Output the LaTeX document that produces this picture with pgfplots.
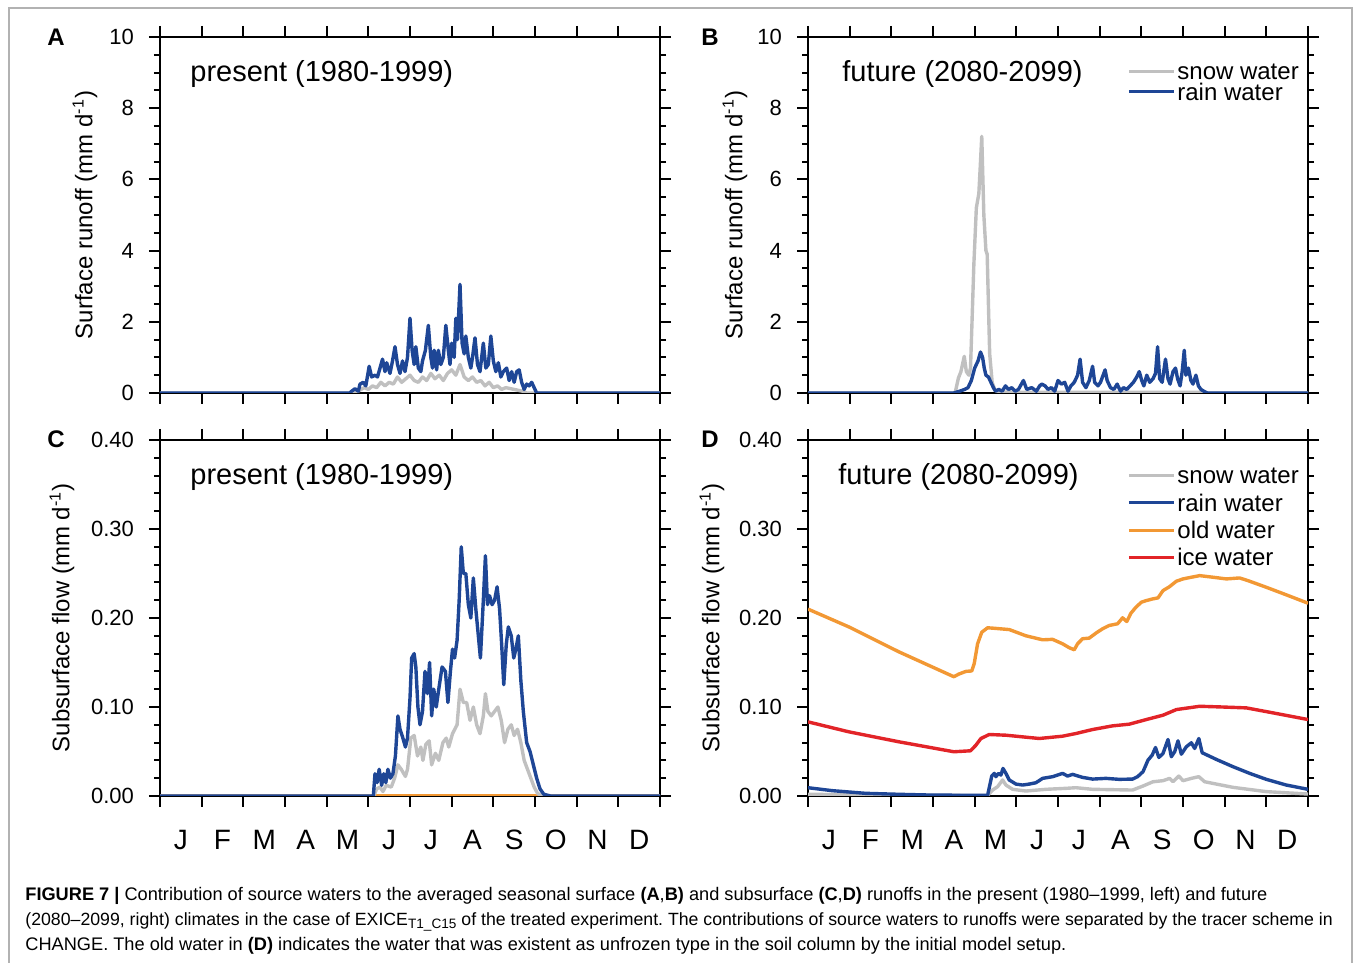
\documentclass[border=0pt]{standalone}
\usepackage{fontspec}
\setmainfont{Liberation Sans}
\usepackage{pgfplots}
\pgfplotsset{compat=1.18}
\frenchspacing

\definecolor{cgrey}{RGB}{192,192,192}
\definecolor{cblue}{RGB}{30,70,150}
\definecolor{corange}{RGB}{242,152,52}
\definecolor{cred}{RGB}{226,36,40}

\pgfplotsset{
  panel/.style={
    scale only axis, width=250pt, height=178pt,
    xmin=0, xmax=12,
    xtick={0,...,12}, xticklabels={},
    tick align=outside,
    major tick length=5.5pt, minor tick length=3pt,
    axis line style={line width=1.2pt},
    every tick/.style={black, line width=1pt},
    y tick label style={font=\fontsize{11}{11}\selectfont, xshift=-4pt},
    /pgf/number format/assume math mode=true,
    scaled y ticks=false,
    ylabel style={font=\fontsize{12}{12}\selectfont, anchor=center},
    every axis plot/.append style={line width=1.7pt, line join=round},
    legend style={draw=none, fill=none, anchor=north west, inner sep=0pt,
      font=\fontsize{12}{12}\selectfont,
      nodes={inner sep=1pt, text height=8.2pt, text depth=0pt, anchor=west}},
    legend cell align=left,
    legend image code/.code={\draw[##1, line width=1.5pt] (0pt,0pt) -- (22.5pt,0pt);},
  },
  surf/.style={ymin=0, ymax=10, ytick={0,2,...,10}, minor y tick num=3,
    ylabel={Surface runoff (mm d\textsuperscript{-1})}},
  sub/.style={ymin=0, ymax=0.4, ytick={0,0.1,0.2,0.3,0.4}, minor y tick num=4,
    y tick label style={/pgf/number format/.cd, fixed, fixed zerofill, precision=2},
    ylabel={Subsurface flow (mm d\textsuperscript{-1})}},
  months/.style={
    extra x ticks={0.5,1.5,2.5,3.5,4.5,5.5,6.5,7.5,8.5,9.5,10.5,11.5},
    extra x tick labels={J,F,M,A,M,J,J,A,S,O,N,D},
    extra x tick style={tick style={draw=none},
      tick label style={font=\fontsize{14}{14}\selectfont, yshift=-8pt}}},
}

\begin{document}
\begin{tikzpicture}
\path[use as bounding box] (0,0) rectangle (677.5pt,481.5pt);
\draw[gray!60, line width=0.7pt] (4.5pt,0) -- (4.5pt,477.5pt) -- (676pt,477.5pt) -- (676pt,0);

% ---------------- A ----------------
\begin{axis}[panel, surf, at={(80pt,285pt)}, anchor=south west,
  ylabel style={at={(axis description cs:-0.15,0.5)}}]
\addplot[cgrey] coordinates {(0,0) (4.6,0) (4.75,0.05) (4.9,0.15) (5.0,0.1) (5.1,0.2) (5.2,0.15) (5.3,0.3) (5.4,0.2) (5.5,0.3) (5.6,0.25) (5.7,0.45) (5.8,0.3) (5.9,0.4) (6.0,0.5) (6.1,0.35) (6.2,0.3) (6.3,0.45) (6.4,0.35) (6.5,0.55) (6.6,0.4) (6.7,0.5) (6.8,0.35) (6.9,0.55) (7.0,0.65) (7.1,0.5) (7.2,0.8) (7.3,0.45) (7.4,0.35) (7.5,0.45) (7.6,0.3) (7.7,0.35) (7.8,0.2) (7.9,0.3) (8.0,0.15) (8.1,0.2) (8.2,0.1) (8.3,0.15) (8.5,0.1) (8.7,0.05) (8.8,0) (12,0)};
\addplot[cblue] coordinates {(0,0) (4.55,0) (4.6,0.05) (4.68,0.12) (4.76,0.05) (4.8,0.25) (4.88,0.3) (4.94,0.2) (5.02,0.75) (5.08,0.45) (5.16,0.5) (5.22,0.45) (5.28,0.7) (5.34,0.95) (5.4,0.6) (5.44,0.85) (5.52,0.55) (5.58,0.9) (5.64,1.3) (5.7,0.8) (5.76,0.55) (5.82,0.9) (5.88,0.6) (5.94,1.0) (6.0,2.1) (6.05,1.2) (6.1,0.8) (6.14,1.3) (6.2,0.7) (6.26,0.6) (6.3,0.9) (6.37,1.2) (6.44,1.9) (6.5,1.0) (6.54,0.7) (6.58,1.2) (6.64,0.65) (6.68,1.2) (6.74,0.8) (6.8,1.0) (6.86,1.9) (6.92,1.2) (6.96,0.8) (7.0,1.4) (7.06,1.0) (7.1,2.1) (7.14,1.5) (7.2,3.05) (7.25,1.4) (7.3,1.1) (7.34,1.6) (7.4,1.0) (7.46,0.7) (7.5,1.0) (7.56,1.55) (7.62,0.8) (7.68,0.6) (7.76,1.4) (7.82,0.7) (7.88,0.8) (7.94,1.6) (8.0,0.9) (8.06,0.6) (8.12,0.85) (8.18,0.45) (8.24,0.6) (8.32,0.7) (8.38,0.35) (8.44,0.6) (8.5,0.3) (8.56,0.6) (8.62,0.65) (8.68,0.3) (8.74,0.1) (8.8,0.25) (8.86,0.2) (8.92,0.3) (8.98,0.15) (9.04,0.0) (12,0)};
\node[anchor=west, inner sep=0pt, font=\fontsize{14.5}{14.5}\selectfont] at (axis description cs:0.06,0.897) {present (1980-1999)};
\end{axis}

% ---------------- B ----------------
\begin{axis}[panel, surf, at={(404pt,285pt)}, anchor=south west,
  ylabel style={at={(axis description cs:-0.146,0.5)}},
  legend style={at={(axis description cs:0.638,0.933)}, row sep=0pt}]
\addplot[cgrey] coordinates {(0,0) (3.53,0) (3.61,0.42) (3.67,0.6) (3.75,1.03) (3.80,0.6) (3.86,0.5) (3.90,0.7) (3.95,2.5) (3.98,3.6) (4.04,5.2) (4.10,5.6) (4.14,6.5) (4.17,7.21) (4.22,5.0) (4.27,4.0) (4.30,3.9) (4.36,1.1) (4.42,0.3) (4.48,0.1) (4.55,0.03) (5,0.02) (9.5,0.02) (9.6,0) (12,0)};
\addlegendentry{snow water}
\addplot[cblue] coordinates {(0,0) (3.5,0) (3.64,0.05) (3.76,0.1) (3.84,0.15) (3.92,0.35) (4.0,0.7) (4.08,0.9) (4.14,1.15) (4.19,1.0) (4.23,0.7) (4.27,0.5) (4.33,0.45) (4.39,0.3) (4.45,0.15) (4.5,0.05) (4.58,0.1) (4.66,0.05) (4.74,0.2) (4.81,0.1) (4.89,0.15) (4.97,0.05) (5.05,0.1) (5.17,0.35) (5.25,0.1) (5.37,0.15) (5.48,0.05) (5.56,0.2) (5.61,0.25) (5.69,0.2) (5.76,0.1) (5.84,0.15) (5.92,0.05) (6.0,0.35) (6.08,0.25) (6.16,0.3) (6.24,0.05) (6.31,0.2) (6.39,0.3) (6.47,0.5) (6.53,0.95) (6.59,0.3) (6.67,0.15) (6.75,0.35) (6.83,0.75) (6.88,0.3) (6.96,0.2) (7.02,0.3) (7.13,0.65) (7.18,0.35) (7.26,0.15) (7.34,0.1) (7.42,0.25) (7.50,0.05) (7.57,0.15) (7.65,0.1) (7.73,0.2) (7.81,0.3) (7.89,0.45) (7.95,0.6) (8.01,0.35) (8.06,0.2) (8.13,0.5) (8.2,0.3) (8.28,0.4) (8.34,0.55) (8.39,1.3) (8.44,0.4) (8.5,0.3) (8.58,0.95) (8.64,0.4) (8.69,0.25) (8.76,0.6) (8.82,0.7) (8.87,0.4) (8.93,0.2) (8.98,0.6) (9.03,1.2) (9.07,0.5) (9.13,0.7) (9.19,0.35) (9.24,0.25) (9.31,0.5) (9.37,0.2) (9.43,0.1) (9.5,0.05) (9.58,0) (12,0)};
\addlegendentry{rain water}
\node[anchor=west, inner sep=0pt, font=\fontsize{14.5}{14.5}\selectfont] at (axis description cs:0.068,0.897) {future (2080-2099)};
\end{axis}

% ---------------- C ----------------
\begin{axis}[panel, sub, months, at={(80pt,83.5pt)}, anchor=south west,
  ylabel style={at={(axis description cs:-0.196,0.5)}}]
\addplot[corange] coordinates {(0,0) (12,0)};
\addplot[cgrey] coordinates {(0,0) (5.13,0) (5.2,0.008) (5.28,0.01) (5.35,0.005) (5.43,0.012) (5.55,0.01) (5.63,0.02) (5.71,0.035) (5.79,0.03) (5.89,0.022) (5.94,0.03) (6.02,0.065) (6.10,0.068) (6.18,0.045) (6.26,0.055) (6.31,0.04) (6.38,0.058) (6.46,0.062) (6.52,0.035) (6.61,0.048) (6.69,0.04) (6.79,0.06) (6.87,0.065) (6.93,0.055) (7.02,0.07) (7.13,0.08) (7.20,0.12) (7.28,0.105) (7.36,0.105) (7.44,0.085) (7.52,0.10) (7.60,0.08) (7.68,0.07) (7.76,0.09) (7.81,0.115) (7.87,0.095) (7.95,0.09) (8.03,0.095) (8.11,0.10) (8.19,0.085) (8.27,0.06) (8.35,0.075) (8.43,0.08) (8.50,0.068) (8.58,0.075) (8.66,0.06) (8.74,0.04) (8.82,0.03) (8.90,0.02) (8.98,0.01) (9.06,0.003) (9.17,0) (12,0)};
\addplot[cblue] coordinates {(0,0) (5.12,0) (5.16,0.025) (5.21,0.015) (5.26,0.03) (5.32,0.012) (5.37,0.025) (5.42,0.015) (5.47,0.03) (5.53,0.02) (5.59,0.025) (5.65,0.045) (5.71,0.09) (5.76,0.075) (5.83,0.065) (5.89,0.055) (5.94,0.065) (6.0,0.11) (6.04,0.155) (6.10,0.16) (6.14,0.145) (6.19,0.10) (6.24,0.08) (6.30,0.095) (6.36,0.14) (6.42,0.115) (6.47,0.15) (6.52,0.09) (6.57,0.12) (6.63,0.10) (6.69,0.12) (6.77,0.145) (6.85,0.14) (6.91,0.105) (6.97,0.14) (7.02,0.165) (7.07,0.155) (7.13,0.175) (7.18,0.22) (7.23,0.28) (7.28,0.25) (7.34,0.25) (7.40,0.215) (7.46,0.20) (7.52,0.245) (7.58,0.21) (7.64,0.18) (7.69,0.155) (7.76,0.22) (7.81,0.27) (7.86,0.215) (7.91,0.225) (7.97,0.215) (8.03,0.22) (8.09,0.235) (8.15,0.21) (8.20,0.17) (8.25,0.125) (8.31,0.17) (8.36,0.19) (8.43,0.18) (8.49,0.155) (8.54,0.165) (8.60,0.18) (8.66,0.13) (8.72,0.095) (8.80,0.06) (8.88,0.05) (8.96,0.035) (9.04,0.02) (9.12,0.008) (9.21,0.002) (9.37,0) (12,0)};
\node[anchor=west, inner sep=0pt, font=\fontsize{14.5}{14.5}\selectfont] at (axis description cs:0.06,0.897) {present (1980-1999)};
\end{axis}

% ---------------- D ----------------
\begin{axis}[panel, sub, months, at={(404pt,83.5pt)}, anchor=south west,
  ylabel style={at={(axis description cs:-0.192,0.5)}},
  legend style={at={(axis description cs:0.638,0.93)}, row sep=3.5pt}]
\addplot[cgrey] coordinates {(0,0.002) (1.38,0.001) (4.31,0.0005) (4.43,0.0067) (4.55,0.0105) (4.67,0.018) (4.75,0.0123) (4.91,0.0075) (5.23,0.0056) (5.71,0.0075) (6.19,0.0086) (6.43,0.0093) (6.83,0.0075) (7.79,0.0067) (8.04,0.0112) (8.28,0.016) (8.52,0.0172) (8.68,0.0198) (8.76,0.016) (8.9,0.0224) (9.0,0.0172) (9.2,0.0198) (9.38,0.0217) (9.52,0.016) (10.2,0.0097) (11.0,0.0049) (12,0.0022)};
\addlegendentry{snow water}
\addplot[cblue] coordinates {(0,0.0093) (0.58,0.006) (1.38,0.003) (2.18,0.0019) (2.98,0.001) (4.31,0.0007) (4.41,0.0224) (4.47,0.0254) (4.51,0.0217) (4.57,0.0254) (4.63,0.0235) (4.68,0.031) (4.75,0.0254) (4.83,0.018) (4.99,0.0134) (5.15,0.0123) (5.31,0.0134) (5.47,0.0149) (5.63,0.0198) (5.87,0.0217) (6.11,0.0254) (6.23,0.0224) (6.35,0.0243) (6.59,0.0209) (6.83,0.019) (7.15,0.0198) (7.47,0.0187) (7.79,0.019) (7.91,0.0217) (8.04,0.0273) (8.16,0.0403) (8.26,0.0459) (8.34,0.0545) (8.42,0.0433) (8.52,0.0478) (8.64,0.0635) (8.72,0.0441) (8.80,0.0497) (8.88,0.062) (8.96,0.047) (9.08,0.0553) (9.2,0.0598) (9.28,0.0534) (9.38,0.0646) (9.46,0.0486) (9.8,0.0411) (10.2,0.0329) (10.6,0.0254) (11.0,0.0187) (11.48,0.0123) (12,0.0075)};
\addlegendentry{rain water}
\addplot[corange] coordinates {(0,0.210) (0.98,0.190) (2.18,0.162) (3.5,0.134) (3.62,0.137) (3.79,0.140) (3.93,0.1405) (3.99,0.149) (4.07,0.171) (4.17,0.184) (4.31,0.189) (4.43,0.1886) (4.83,0.187) (5.23,0.180) (5.63,0.1755) (5.87,0.176) (6.11,0.171) (6.27,0.1666) (6.39,0.1643) (6.47,0.171) (6.59,0.1767) (6.75,0.1774) (6.91,0.183) (7.07,0.1879) (7.23,0.1916) (7.43,0.1935) (7.55,0.2002) (7.65,0.196) (7.75,0.2054) (7.87,0.2121) (8.0,0.2177) (8.12,0.2196) (8.28,0.2215) (8.4,0.2226) (8.52,0.2308) (8.68,0.2353) (8.84,0.2413) (9.0,0.2439) (9.2,0.2458) (9.4,0.2476) (9.72,0.2458) (10.04,0.2439) (10.36,0.245) (10.6,0.2413) (11.0,0.2345) (11.48,0.226) (12,0.2166)};
\addlegendentry{old water}
\addplot[cred] coordinates {(0,0.0833) (0.98,0.0721) (2.18,0.0609) (3.5,0.0497) (3.9,0.0508) (4.03,0.0571) (4.15,0.0646) (4.35,0.0691) (4.75,0.0683) (5.55,0.0646) (6.11,0.0672) (6.43,0.0702) (6.83,0.0747) (7.31,0.0788) (7.71,0.0807) (8.12,0.0859) (8.52,0.0908) (8.84,0.0971) (9.4,0.1008) (9.88,0.1001) (10.52,0.099) (11.16,0.0934) (12,0.0859)};
\addlegendentry{ice water}
\node[anchor=west, inner sep=0pt, font=\fontsize{14.5}{14.5}\selectfont] at (axis description cs:0.06,0.897) {future (2080-2099)};
\end{axis}

% panel letters
\node[font=\bfseries\fontsize{12}{12}\selectfont] at (28pt,463pt) {A};
\node[font=\bfseries\fontsize{12}{12}\selectfont] at (355pt,463pt) {B};
\node[font=\bfseries\fontsize{12}{12}\selectfont] at (28pt,262pt) {C};
\node[font=\bfseries\fontsize{12}{12}\selectfont] at (355pt,262pt) {D};

% caption
\begin{scope}[every node/.style={anchor=base west, inner sep=0pt, font=\fontsize{9.1}{9.1}\selectfont}]
\node at (12.5pt,31pt) {\textbf{FIGURE 7 |} Contribution of source waters to the averaged seasonal surface \textbf{(A},\textbf{B)} and subsurface \textbf{(C},\textbf{D)} runoffs in the present (1980–1999, left) and future};
\node[font=\fontsize{8.85}{8.85}\selectfont] at (12.5pt,18.5pt) {(2080–2099, right) climates in the case of EXICE{\fontsize{6.8}{6.8}\selectfont\raisebox{-0.35ex}{T1\_C15}} of the treated experiment. The contributions of source waters to runoffs were separated by the tracer scheme in};
\node at (12.5pt,6pt) {CHANGE. The old water in \textbf{(D)} indicates the water that was existent as unfrozen type in the soil column by the initial model setup.};
\end{scope}
\end{tikzpicture}
\end{document}
